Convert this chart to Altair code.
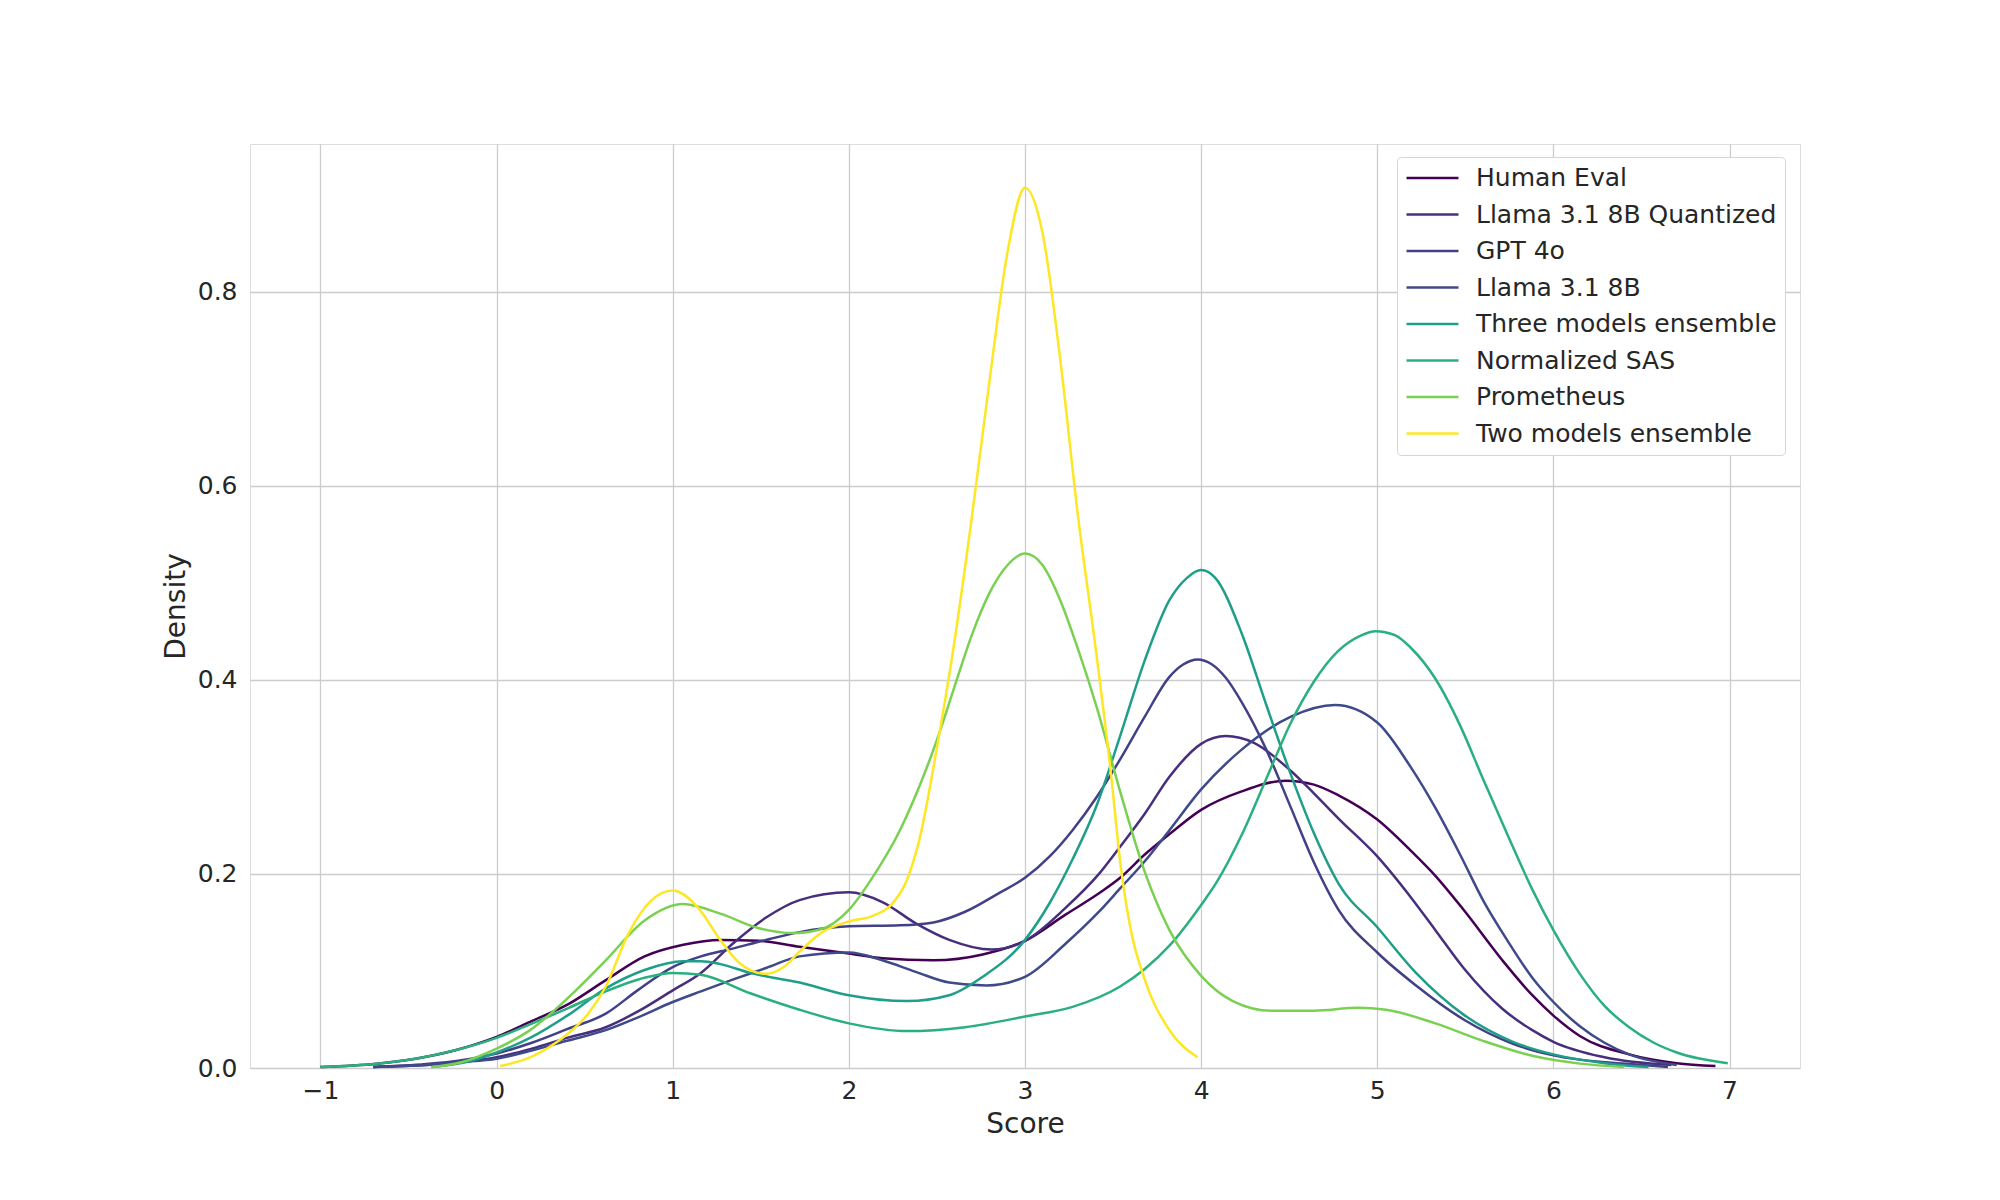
import altair as alt
import pandas as pd

series_names = ["Human Eval", "Llama 3.1 8B Quantized", "GPT 4o", "Llama 3.1 8B",
                "Three models ensemble", "Normalized SAS", "Prometheus", "Two models ensemble"]
series_colors = ["#440154", "#472f7d", "#424086", "#3e4a89",
                 "#1f9e89", "#2ab07f", "#7ad151", "#fde725"]

human_x = [-1.0, -0.68, -0.46, -0.24, 0.0, 0.19, 0.41, 0.62, 0.84, 1.06, 1.27, 1.49, 1.72, 2.0, 2.19, 2.48, 2.76, 3.0, 3.23, 3.42, 3.54, 3.68, 3.82, 4.0, 4.23, 4.48, 4.64, 4.78, 5.0, 5.19, 5.33, 5.49, 5.71, 5.88, 6.0, 6.15, 6.43, 6.7, 6.92]
human_y = [0.001, 0.0045, 0.0096, 0.018, 0.032, 0.0475, 0.066, 0.0905, 0.115, 0.127, 0.132, 0.131, 0.125, 0.118, 0.113, 0.111, 0.117, 0.131, 0.158, 0.18, 0.196, 0.22, 0.241, 0.266, 0.285, 0.296, 0.292, 0.281, 0.256, 0.224, 0.198, 0.163, 0.111, 0.075, 0.054, 0.033, 0.014, 0.005, 0.002]

quant_x = [-0.7, -0.4, -0.2, 0.0, 0.2, 0.4, 0.62, 0.8, 1.0, 1.16, 1.34, 1.53, 1.72, 2.0, 2.19, 2.38, 2.57, 2.81, 3.0, 3.23, 3.42, 3.54, 3.68, 3.82, 4.0, 4.14, 4.3, 4.51, 4.64, 4.78, 5.0, 5.19, 5.33, 5.49, 5.71, 5.88, 6.0, 6.29, 6.67]
quant_y = [0.001, 0.003, 0.006, 0.011, 0.02, 0.031, 0.042, 0.058, 0.08, 0.098, 0.128, 0.155, 0.173, 0.181, 0.171, 0.149, 0.132, 0.122, 0.131, 0.165, 0.2, 0.228, 0.262, 0.3, 0.334, 0.342, 0.335, 0.306, 0.283, 0.257, 0.218, 0.176, 0.142, 0.103, 0.061, 0.039, 0.027, 0.011, 0.003]

gpt_x = [-0.7, -0.4, -0.2, 0.0, 0.2, 0.4, 0.62, 0.8, 1.0, 1.16, 1.34, 1.53, 1.72, 2.0, 2.29, 2.48, 2.66, 2.85, 3.0, 3.14, 3.27, 3.41, 3.54, 3.68, 3.82, 3.9, 3.98, 4.06, 4.14, 4.23, 4.37, 4.51, 4.64, 4.78, 5.0, 5.22, 5.49, 5.77, 6.0, 6.43, 6.65]
gpt_y = [0.001, 0.004, 0.008, 0.015, 0.026, 0.04, 0.056, 0.08, 0.104, 0.115, 0.123, 0.132, 0.14, 0.146, 0.147, 0.15, 0.161, 0.18, 0.196, 0.218, 0.245, 0.28, 0.318, 0.362, 0.403, 0.416, 0.421, 0.416, 0.402, 0.377, 0.328, 0.268, 0.212, 0.163, 0.119, 0.085, 0.05, 0.025, 0.013, 0.004, 0.001]

llama_x = [-0.7, -0.4, -0.2, 0.0, 0.2, 0.4, 0.62, 0.8, 1.0, 1.16, 1.34, 1.53, 1.72, 2.0, 2.19, 2.38, 2.57, 2.78, 3.0, 3.23, 3.42, 3.54, 3.68, 3.82, 4.0, 4.23, 4.51, 4.76, 5.0, 5.19, 5.33, 5.47, 5.6, 5.74, 5.88, 6.0, 6.15, 6.29, 6.43, 6.7]
llama_y = [0.001, 0.003, 0.006, 0.0096, 0.018, 0.028, 0.039, 0.052, 0.068, 0.079, 0.091, 0.103, 0.115, 0.119, 0.111, 0.099, 0.088, 0.085, 0.094, 0.128, 0.161, 0.185, 0.213, 0.245, 0.287, 0.328, 0.362, 0.374, 0.356, 0.31, 0.268, 0.22, 0.173, 0.131, 0.093, 0.068, 0.043, 0.026, 0.014, 0.003]

three_x = [-0.37, -0.2, 0.0, 0.19, 0.41, 0.62, 0.84, 1.06, 1.16, 1.27, 1.44, 1.72, 2.0, 2.33, 2.57, 2.76, 3.0, 3.14, 3.27, 3.41, 3.54, 3.68, 3.82, 3.92, 4.0, 4.08, 4.23, 4.37, 4.51, 4.64, 4.78, 5.0, 5.22, 5.49, 5.77, 6.0, 6.29, 6.54]
three_y = [0.001, 0.005, 0.016, 0.031, 0.055, 0.082, 0.101, 0.11, 0.11, 0.107, 0.098, 0.088, 0.075, 0.069, 0.075, 0.094, 0.132, 0.17, 0.215, 0.272, 0.342, 0.42, 0.482, 0.505, 0.513, 0.505, 0.448, 0.374, 0.302, 0.242, 0.19, 0.145, 0.098, 0.055, 0.027, 0.014, 0.005, 0.001]

sas_x = [-1.0, -0.68, -0.46, -0.24, 0.0, 0.19, 0.41, 0.62, 0.84, 1.0, 1.16, 1.44, 1.72, 2.0, 2.33, 2.66, 3.0, 3.27, 3.54, 3.68, 3.82, 4.0, 4.09, 4.23, 4.37, 4.51, 4.64, 4.78, 4.9, 4.99, 5.1, 5.19, 5.33, 5.47, 5.6, 5.74, 5.88, 6.0, 6.15, 6.29, 6.43, 6.57, 6.7, 6.99]
sas_y = [0.001, 0.0045, 0.0096, 0.018, 0.031, 0.045, 0.062, 0.079, 0.093, 0.098, 0.096, 0.077, 0.06, 0.046, 0.038, 0.042, 0.053, 0.063, 0.084, 0.102, 0.126, 0.168, 0.192, 0.24, 0.298, 0.356, 0.398, 0.43, 0.445, 0.45, 0.446, 0.433, 0.401, 0.353, 0.298, 0.24, 0.184, 0.142, 0.097, 0.064, 0.042, 0.026, 0.016, 0.005]

prom_x = [-0.37, -0.2, 0.0, 0.19, 0.41, 0.62, 0.84, 1.06, 1.27, 1.49, 1.68, 1.84, 2.0, 2.14, 2.29, 2.4, 2.5, 2.6, 2.7, 2.8, 2.9, 3.0, 3.1, 3.2, 3.3, 3.41, 3.54, 3.68, 3.82, 4.0, 4.18, 4.4, 4.64, 4.89, 5.05, 5.33, 5.6, 5.88, 6.15, 6.4]
prom_y = [0.001, 0.006, 0.02, 0.039, 0.073, 0.111, 0.152, 0.169, 0.159, 0.144, 0.139, 0.143, 0.163, 0.198, 0.245, 0.29, 0.338, 0.393, 0.447, 0.49, 0.518, 0.53, 0.518, 0.482, 0.432, 0.37, 0.285, 0.202, 0.142, 0.095, 0.069, 0.059, 0.059, 0.062, 0.06, 0.046, 0.028, 0.0126, 0.0045, 0.001]

two_x = [0.02, 0.19, 0.36, 0.52, 0.62, 0.75, 0.88, 1.0, 1.14, 1.27, 1.38, 1.53, 1.63, 1.72, 1.85, 2.0, 2.14, 2.24, 2.33, 2.4, 2.5, 2.6, 2.7, 2.8, 2.9, 3.0, 3.1, 3.2, 3.3, 3.41, 3.49, 3.54, 3.6, 3.68, 3.82, 3.98]
two_y = [0.002, 0.011, 0.029, 0.056, 0.084, 0.139, 0.173, 0.183, 0.166, 0.132, 0.108, 0.097, 0.104, 0.12, 0.14, 0.151, 0.157, 0.168, 0.194, 0.235, 0.33, 0.44, 0.57, 0.71, 0.84, 0.907, 0.86, 0.73, 0.57, 0.42, 0.30, 0.213, 0.143, 0.091, 0.039, 0.011]

x_ticks = [-1, 0, 1, 2, 3, 4, 5, 6, 7]
y_ticks = [0.0, 0.2, 0.4, 0.6, 0.8]

series_data = [(human_x, human_y), (quant_x, quant_y), (gpt_x, gpt_y), (llama_x, llama_y),
               (three_x, three_y), (sas_x, sas_y), (prom_x, prom_y), (two_x, two_y)]

rows = []
for name, (xs, ys) in zip(series_names, series_data):
    for xv, yv in zip(xs, ys):
        rows.append({"series": name, "Score": xv, "Density": yv})
df = pd.DataFrame(rows)

FONT = "DejaVu Sans"
TXT = "#262626"

chart = alt.Chart(df).mark_line(strokeWidth=2.5, interpolate="monotone").encode(
    x=alt.X("Score:Q",
            scale=alt.Scale(domain=[-1.4, 7.4], nice=False, zero=False),
            axis=alt.Axis(values=x_ticks, format="d", title="Score", ticks=False, domain=False,
                          labelFontSize=25, titleFontSize=28, labelPadding=10,
                          labelColor=TXT, titleColor=TXT, labelFont=FONT, titleFont=FONT,
                          titleFontWeight="normal", titleY=56, titleBaseline="middle",
                          gridColor="#cccccc", gridWidth=1.3)),
    y=alt.Y("Density:Q",
            scale=alt.Scale(domain=[0, 0.952], nice=False),
            axis=alt.Axis(values=y_ticks, format=".1f", title="Density", ticks=False, domain=False,
                          labelFontSize=25, titleFontSize=28, labelPadding=13,
                          labelColor=TXT, titleColor=TXT, labelFont=FONT, titleFont=FONT,
                          titleFontWeight="normal", titleX=-74, titleY=462, titleAngle=270,
                          titleBaseline="middle", titleAlign="center",
                          gridColor="#cccccc", gridWidth=1.3)),
    color=alt.Color("series:N",
                    scale=alt.Scale(domain=series_names, range=series_colors),
                    sort=series_names,
                    legend=alt.Legend(title=None, orient="none", legendX=1147, legendY=13,
                                      symbolType="stroke", symbolSize=2700, symbolStrokeWidth=2.5,
                                      labelFontSize=25, labelFont=FONT, labelColor=TXT,
                                      labelOffset=16, clipHeight=26, rowPadding=10.5, padding=8,
                                      strokeColor="#d6d6d6", fillColor="white", cornerRadius=4,
                                      labelLimit=600)),
    detail="series:N",
).properties(
    width=1550, height=924,
    padding={"left": 242, "top": 136, "right": 190, "bottom": 120},
    autosize=alt.AutoSizeParams(type="none"),
).configure_view(
    stroke="#cccccc", strokeWidth=1.5
).configure(background="white")

chart.save("out.html", embed_options={"renderer": "svg", "actions": False})
